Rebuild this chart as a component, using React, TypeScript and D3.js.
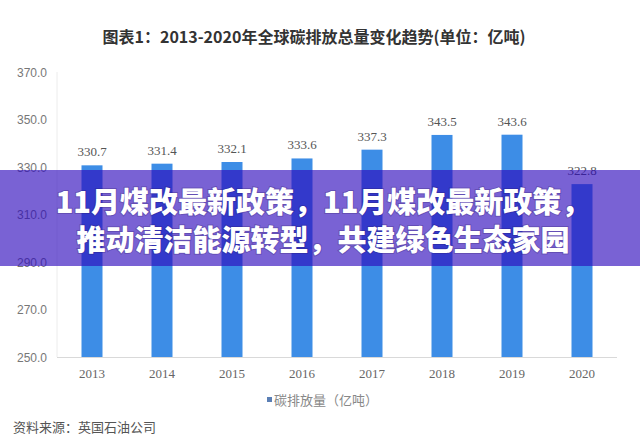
import React from "react";
import * as d3 from "d3";

const years = ["2013", "2014", "2015", "2016", "2017", "2018", "2019", "2020"];
const emissions = [330.7, 331.4, 332.1, 333.6, 337.3, 343.5, 343.6, 322.8];
const yTicks = [250, 270, 290, 310, 330, 350, 370];
const titleText = "图表1：2013-2020年全球碳排放总量变化趋势(单位：亿吨)";
const legendText = "碳排放量（亿吨）";
const sourceText = "资料来源：英国石油公司";
const overlayLines = ["11月煤改最新政策，11月煤改最新政策，", "推动清洁能源转型，共建绿色生态家园"];

const W = 640;
const H = 441;
const left = 57;
const right = 617;
const bottom = 357;
const top = 72;

export default function App() {
  const x = d3.scaleBand<string>().domain(years).range([left, right]).paddingInner(0.7).paddingOuter(0.35);
  const y = d3.scaleLinear().domain([250, 370]).range([bottom, top]);
  const serif = "'Liberation Serif', 'DejaVu Serif', serif";
  const cjk = "'Noto Sans CJK SC', 'Noto Sans', sans-serif";
  return (
    <svg width={W} height={H} style={{ position: "absolute", left: 0, top: 0, background: "#fff" }}>
      <rect x={0} y={0} width={W} height={H} fill="#fff" />
      <text x={314} y={43} textAnchor="middle" fontFamily={cjk} fontSize={16} fontWeight={700} fill="#333">
        {titleText}
      </text>
      {/* axes */}
      <line x1={left} x2={left} y1={top} y2={bottom} stroke="#ececec" strokeWidth={1} />
      <line x1={left} x2={right} y1={bottom + 0.5} y2={bottom + 0.5} stroke="#d9d9d9" strokeWidth={1} />
      {yTicks.map((t) => (
        <text key={t} x={47} y={y(t) + 4.5} textAnchor="end" fontFamily="'Liberation Sans', 'DejaVu Sans', sans-serif" fontSize={12} fill="#777">
          {t.toFixed(1)}
        </text>
      ))}
      {years.map((yr, i) => (
        <g key={yr}>
          <rect x={x(yr)} y={y(emissions[i])} width={x.bandwidth()} height={bottom - y(emissions[i])} fill="#3d8de6" />
          <text x={(x(yr) as number) + x.bandwidth() / 2} y={y(emissions[i]) - 9} textAnchor="middle" fontFamily={serif} fontSize={13} fill="#555">
            {emissions[i].toFixed(1)}
          </text>
          <text x={(x(yr) as number) + x.bandwidth() / 2} y={378} textAnchor="middle" fontFamily={serif} fontSize={13} fill="#666">
            {yr}
          </text>
        </g>
      ))}
      {/* legend */}
      <rect x={267} y={397} width={5} height={5} fill="#5b7fb5" />
      <text x={274} y={404.5} fontFamily={cjk} fontSize={13} fill="#888">
        {legendText}
      </text>
      <text x={13} y={432} fontFamily={cjk} fontSize={13} fill="#555">
        {sourceText}
      </text>
      {/* overlay band */}
      <rect x={0} y={170} width={W} height={96} fill="rgba(46,10,188,0.64)" />
      <text textAnchor="middle" fontFamily={cjk} fontSize={29} fontWeight={900} fill="#fff"
        style={{ paintOrder: "stroke" }} stroke="rgba(40,20,90,0.25)" strokeWidth={2}>
        {overlayLines.map((line, i) => (
          <tspan key={i} x={323} y={213 + i * 38}>
            {line}
          </tspan>
        ))}
      </text>
    </svg>
  );
}
